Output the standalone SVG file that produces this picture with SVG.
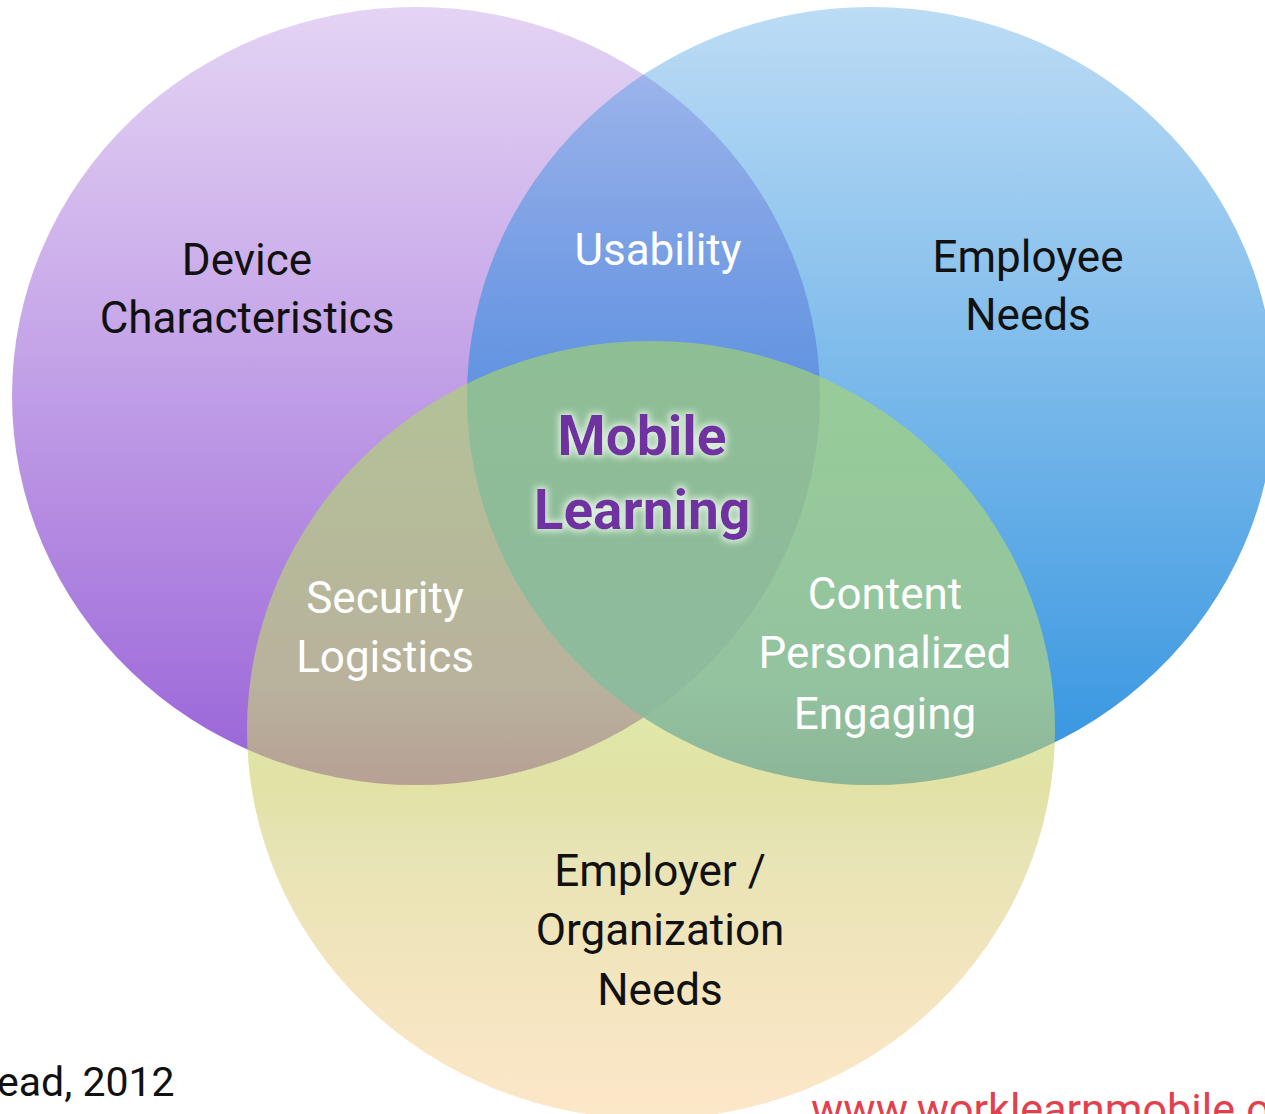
<svg xmlns="http://www.w3.org/2000/svg" width="1265" height="1114" viewBox="0 0 1265 1114">
  <style>
    .lbl { font-family: Roboto, "Liberation Sans", sans-serif; font-size: 44px; text-anchor: middle; }
    .dark { fill: #111111; }
    .light { fill: #ffffff; }
    .core { font-family: Roboto, "Liberation Sans", sans-serif; font-size: 55px; font-weight: bold; fill: #7030a0; text-anchor: middle; }
  </style>
  <defs>
    <linearGradient id="gPurple" gradientUnits="userSpaceOnUse" x1="0" y1="8" x2="0" y2="785">
      <stop offset="0" stop-color="#9b5fd6" stop-opacity="0.27"/>
      <stop offset="1" stop-color="#8f55d4" stop-opacity="0.92"/>
    </linearGradient>
    <linearGradient id="gBlue" gradientUnits="userSpaceOnUse" x1="0" y1="8" x2="0" y2="785">
      <stop offset="0" stop-color="#288ede" stop-opacity="0.31"/>
      <stop offset="1" stop-color="#288ede" stop-opacity="0.95"/>
    </linearGradient>
    <linearGradient id="gYellow" gradientUnits="userSpaceOnUse" x1="0" y1="341" x2="0" y2="1119">
      <stop offset="0" stop-color="#a5d764" stop-opacity="0.62"/>
      <stop offset="0.45" stop-color="#c8dc73" stop-opacity="0.6"/>
      <stop offset="0.57" stop-color="#cdcd64" stop-opacity="0.58"/>
      <stop offset="0.64" stop-color="#c3be4b" stop-opacity="0.42"/>
      <stop offset="1" stop-color="#f5a83a" stop-opacity="0.27"/>
    </linearGradient>
    <filter id="glow" x="-20%" y="-30%" width="140%" height="160%">
      <feMorphology in="SourceAlpha" operator="dilate" radius="2" result="thick"/>
      <feGaussianBlur in="thick" stdDeviation="3.5" result="soft"/>
      <feFlood flood-color="#e4f4e4" flood-opacity="0.95"/>
      <feComposite in2="soft" operator="in" result="halo"/>
      <feMerge>
        <feMergeNode in="halo"/>
        <feMergeNode in="SourceGraphic"/>
      </feMerge>
    </filter>
  </defs>

  <rect width="1265" height="1114" fill="#ffffff"/>

  <!-- three overlapping sets -->
  <g id="set-device">
    <ellipse cx="416" cy="396" rx="404" ry="389" fill="url(#gPurple)"/>
  </g>
  <g id="set-employee">
    <ellipse cx="871" cy="396" rx="404" ry="389" fill="url(#gBlue)"/>
  </g>
  <g id="set-employer">
    <ellipse cx="651" cy="730" rx="404" ry="389" fill="url(#gYellow)"/>
  </g>

  <!-- set labels -->
  <g id="label-device" class="lbl dark">
    <text x="247" y="275">Device</text>
    <text x="247" y="333">Characteristics</text>
  </g>
  <g id="label-employee" class="lbl dark">
    <text x="1028" y="272">Employee</text>
    <text x="1028" y="330">Needs</text>
  </g>
  <g id="label-employer" class="lbl dark">
    <text x="660" y="886">Employer /</text>
    <text x="660" y="945">Organization</text>
    <text x="660" y="1005">Needs</text>
  </g>

  <!-- intersection labels -->
  <g id="label-usability" class="lbl light">
    <text x="658" y="265">Usability</text>
  </g>
  <g id="label-security" class="lbl light">
    <text x="385" y="613">Security</text>
    <text x="385" y="672">Logistics</text>
  </g>
  <g id="label-content" class="lbl light">
    <text x="885" y="609">Content</text>
    <text x="885" y="668">Personalized</text>
    <text x="885" y="729">Engaging</text>
  </g>

  <!-- centre -->
  <g id="label-core" class="core" filter="url(#glow)">
    <text x="642" y="455">Mobile</text>
    <text x="642" y="529">Learning</text>
  </g>

  <!-- footer -->
  <g id="footer">
    <text x="-3" y="1096" font-family="Roboto, 'Liberation Sans', sans-serif" font-size="41" fill="#111111">ead, 2012</text>
    <text x="811" y="1124" font-family="Roboto, 'Liberation Sans', sans-serif" font-size="43" fill="#e2404c">www.worklearnmobile.o</text>
  </g>

  <g id="connectors"/>
</svg>
